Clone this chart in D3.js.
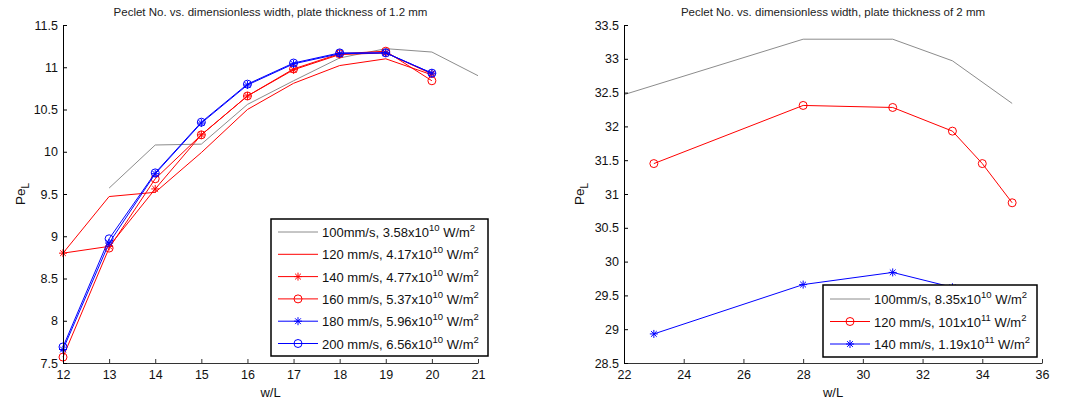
<!DOCTYPE html>
<html>
<head>
<meta charset="utf-8">
<script src="https://cdn.jsdelivr.net/npm/d3@7"></script>
<style>
  html, body { margin: 0; padding: 0; background: #fff; }
  svg { display: block; font-family: "Liberation Sans", Arial, sans-serif; }
</style>
</head>
<body>
<svg id="chart" width="1066" height="402"></svg>
<script>
// ---- Plate thickness 1.2 mm ----
const widthsA = [12, 13, 14, 15, 16, 17, 18, 19, 20, 21];
const peA100 = [null, 9.57, 10.08, 10.09, 10.56, 10.84, 11.11, 11.22, 11.18, 10.90];
const peA120 = [8.80, 9.47, 9.52, 9.99, 10.50, 10.81, 11.02, 11.10, 10.91, null];
const peA140 = [8.80, 8.88, 9.56, 10.20, 10.66, 10.97, 11.15, 11.17, 10.92, null];
const peA160 = [7.57, 8.86, 9.68, 10.20, 10.66, 10.98, 11.16, 11.19, 10.84, null];
const peA180 = [7.66, 8.92, 9.74, 10.34, 10.79, 11.04, 11.16, 11.17, 10.93, null];
const peA200 = [7.69, 8.97, 9.75, 10.35, 10.80, 11.05, 11.17, 11.17, 10.93, null];
const labelsA = [
  ["100mm/s, 3.58x10", "10", " W/m", "2"],
  ["120 mm/s, 4.17x10", "10", " W/m", "2"],
  ["140 mm/s, 4.77x10", "10", " W/m", "2"],
  ["160 mm/s, 5.37x10", "10", " W/m", "2"],
  ["180 mm/s, 5.96x10", "10", " W/m", "2"],
  ["200 mm/s, 6.56x10", "10", " W/m", "2"]
];
const ticksAx = [12, 13, 14, 15, 16, 17, 18, 19, 20, 21];
const ticksAy = [7.5, 8, 8.5, 9, 9.5, 10, 10.5, 11, 11.5];

// ---- Plate thickness 2 mm ----
const widthsB100 = [22, 28, 31, 33, 35];
const peB100 = [32.47, 33.29, 33.29, 32.97, 32.34];
const widthsB = [23, 28, 31, 33, 34, 35];
const peB120 = [31.45, 32.31, 32.28, 31.93, 31.45, 30.87];
const peB140 = [28.93, 29.66, 29.84, 29.62, 29.45, 29.20];
const labelsB = [
  ["100mm/s, 8.35x10", "10", " W/m", "2"],
  ["120 mm/s, 101x10", "11", " W/m", "2"],
  ["140 mm/s, 1.19x10", "11", " W/m", "2"]
];
const ticksBx = [22, 24, 26, 28, 30, 32, 34, 36];
const ticksBy = [28.5, 29, 29.5, 30, 30.5, 31, 31.5, 32, 32.5, 33, 33.5];

const GRAY = "#8c8c8c", RED = "#ff0000", BLUE = "#0000ff";

const svg = d3.select("#chart");

function starPath(r) {
  const d = r * 0.72;
  return `M${-r},0L${r},0M0,${-r}L0,${r}M${-d},${-d}L${d},${d}M${-d},${d}L${d},${-d}`;
}

function drawMarker(g, type, color, x, y) {
  if (type === "circle") {
    g.append("circle").attr("cx", x).attr("cy", y).attr("r", 4)
      .attr("fill", "none").attr("stroke", color).attr("stroke-width", 1);
  } else if (type === "star") {
    g.append("path").attr("transform", `translate(${x},${y})`)
      .attr("d", starPath(4)).attr("fill", "none")
      .attr("stroke", color).attr("stroke-width", 1);
  }
}

function panel(cfg) {
  const x = d3.scaleLinear().domain(cfg.xDomain).range([cfg.left, cfg.right]);
  const y = d3.scaleLinear().domain(cfg.yDomain).range([cfg.bottom, cfg.top]);
  const g = svg.append("g");

  // title
  g.append("text")
    .attr("x", (cfg.left + cfg.right) / 2).attr("y", 16)
    .attr("text-anchor", "middle").attr("font-size", 11.5).attr("fill", "#222")
    .text(cfg.title);

  // series
  const line = d3.line()
    .defined(d => d[1] !== null)
    .x(d => x(d[0])).y(d => y(d[1]));
  cfg.series.forEach(s => {
    const pts = s.xs.map((xv, i) => [xv, s.ys[i]]);
    g.append("path").datum(pts)
      .attr("d", line).attr("fill", "none")
      .attr("stroke", s.color).attr("stroke-width", 1);
    if (s.marker) {
      pts.filter(p => p[1] !== null)
        .forEach(p => drawMarker(g, s.marker, s.color, x(p[0]), y(p[1])));
    }
  });

  // axes
  const ax = g.append("g").attr("transform", `translate(0,${cfg.bottom})`)
    .call(d3.axisBottom(x).tickValues(cfg.xTicks).tickSizeInner(-4).tickSizeOuter(0)
      .tickPadding(7).tickFormat(d => String(d)));
  ax.select(".domain").attr("stroke", "#333");
  ax.selectAll(".tick line").attr("stroke", "#333");
  ax.selectAll("text").attr("font-size", 12.5).attr("fill", "#111")
    .attr("font-family", "Liberation Sans, Arial, sans-serif");

  const ay = g.append("g").attr("transform", `translate(${cfg.left},0)`)
    .call(d3.axisLeft(y).tickValues(cfg.yTicks).tickSizeInner(-4).tickSizeOuter(0)
      .tickPadding(5).tickFormat(d => String(d)));
  ay.select(".domain").attr("stroke", "#000");
  ay.selectAll(".tick line").attr("stroke", "#000");
  ay.selectAll("text").attr("font-size", 12.5).attr("fill", "#111")
    .attr("font-family", "Liberation Sans, Arial, sans-serif");

  // axis labels
  g.append("text")
    .attr("x", (cfg.left + cfg.right) / 2).attr("y", 397)
    .attr("text-anchor", "middle").attr("font-size", 13).attr("fill", "#111")
    .text("w/L");
  const yl = g.append("text")
    .attr("transform", `translate(${cfg.ylabelX},${(cfg.top + cfg.bottom) / 2}) rotate(-90)`)
    .attr("text-anchor", "middle").attr("font-size", 13.5).attr("fill", "#111");
  yl.append("tspan").text("Pe");
  yl.append("tspan").attr("font-size", 10).attr("dy", 4).text("L");

  // legend
  const L = cfg.legend;
  const lg = g.append("g");
  lg.append("rect").attr("x", L.x).attr("y", L.y).attr("width", L.w).attr("height", L.h)
    .attr("fill", "#fff").attr("stroke", "#000").attr("stroke-width", 1.5);
  cfg.series.forEach((s, i) => {
    const cy = L.y + L.first + i * L.step;
    lg.append("line").attr("x1", L.x + 7).attr("x2", L.x + 47)
      .attr("y1", cy).attr("y2", cy).attr("stroke", s.color).attr("stroke-width", 1);
    if (s.marker) drawMarker(lg, s.marker, s.color, L.x + 27, cy);
    const t = lg.append("text").attr("x", L.x + 51).attr("y", cy + 5)
      .attr("font-size", 13).attr("fill", "#111");
    const parts = s.label;
    t.append("tspan").text(parts[0]);
    t.append("tspan").attr("font-size", 9.5).attr("dy", -6).text(parts[1]);
    t.append("tspan").attr("dy", 6).text(parts[2]);
    t.append("tspan").attr("font-size", 9.5).attr("dy", -6).text(parts[3]);
  });
}

panel({
  left: 63, right: 478, top: 25, bottom: 363,
  xDomain: [12, 21], yDomain: [7.5, 11.5],
  xTicks: ticksAx, yTicks: ticksAy, ylabelX: 25,
  title: "Peclet No. vs. dimensionless width, plate thickness of 1.2 mm",
  series: [
    { xs: widthsA, ys: peA100, color: GRAY, marker: null, label: labelsA[0] },
    { xs: widthsA, ys: peA120, color: RED, marker: null, label: labelsA[1] },
    { xs: widthsA, ys: peA140, color: RED, marker: "star", label: labelsA[2] },
    { xs: widthsA, ys: peA160, color: RED, marker: "circle", label: labelsA[3] },
    { xs: widthsA, ys: peA180, color: BLUE, marker: "star", label: labelsA[4] },
    { xs: widthsA, ys: peA200, color: BLUE, marker: "circle", label: labelsA[5] }
  ],
  legend: { x: 271, y: 219, w: 217, h: 137, first: 13, step: 22.3 }
});

panel({
  left: 624, right: 1042, top: 25, bottom: 363,
  xDomain: [22, 36], yDomain: [28.5, 33.5],
  xTicks: ticksBx, yTicks: ticksBy, ylabelX: 584,
  title: "Peclet No. vs. dimensionless width, plate thickness of 2 mm",
  series: [
    { xs: widthsB100, ys: peB100, color: GRAY, marker: null, label: labelsB[0] },
    { xs: widthsB, ys: peB120, color: RED, marker: "circle", label: labelsB[1] },
    { xs: widthsB, ys: peB140, color: BLUE, marker: "star", label: labelsB[2] }
  ],
  legend: { x: 823, y: 285, w: 214, h: 72, first: 14, step: 22.5 }
});
</script>
</body>
</html>
